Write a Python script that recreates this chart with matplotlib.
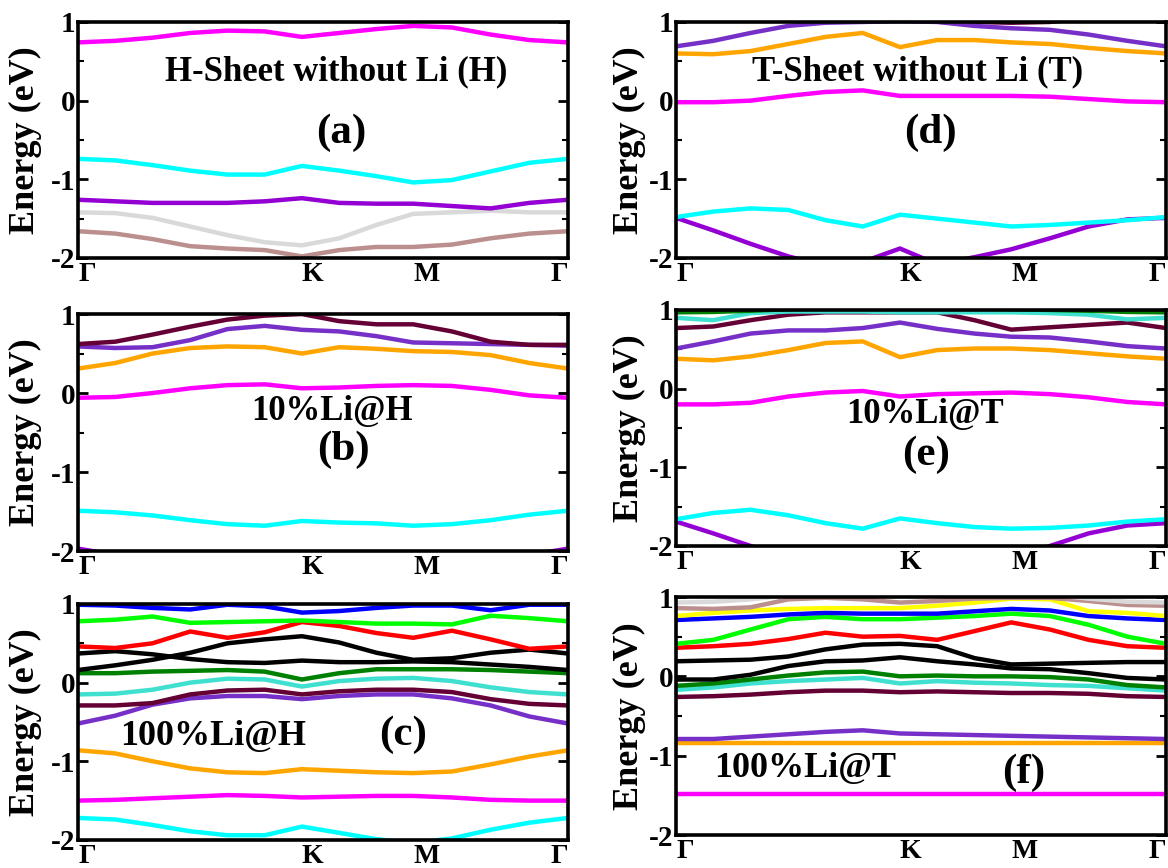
import numpy as np
import matplotlib
matplotlib.use("Agg")
import matplotlib.pyplot as plt

plt.rcParams['font.family'] = ['Liberation Serif', 'DejaVu Serif']
plt.rcParams['font.weight'] = 'bold'

# k-path positions (Gamma - K - M - Gamma)
k = [0.0, 0.076, 0.152, 0.229, 0.305, 0.381, 0.457, 0.533, 0.609, 0.684, 0.763, 0.842, 0.921, 1.0]
k_ticks = [0.0, 0.457, 0.684, 1.0]
k_labels = ["Γ", "K", "M", "Γ"]

# (a) H-Sheet without Li
a_magenta = [0.74, 0.76, 0.80, 0.86, 0.89, 0.88, 0.81, 0.86, 0.91, 0.95, 0.93, 0.84, 0.77, 0.74]
a_cyan = [-0.74, -0.76, -0.82, -0.89, -0.94, -0.94, -0.83, -0.89, -0.96, -1.04, -1.01, -0.90, -0.79, -0.74]
a_purple = [-1.26, -1.28, -1.30, -1.30, -1.30, -1.28, -1.24, -1.30, -1.31, -1.31, -1.34, -1.37, -1.30, -1.26]
a_gray = [-1.42, -1.43, -1.49, -1.60, -1.71, -1.80, -1.84, -1.75, -1.58, -1.44, -1.42, -1.40, -1.42, -1.42]
a_brown = [-1.66, -1.69, -1.76, -1.85, -1.88, -1.90, -1.98, -1.90, -1.86, -1.86, -1.83, -1.75, -1.69, -1.66]

# (d) T-Sheet without Li
d_maroon = [1.15, 1.12, 1.10, 1.08, 1.06, 1.05, 1.04, 1.02, 1.00, 0.99, 1.00, 1.05, 1.10, 1.15]
d_purple_hi = [0.69, 0.76, 0.86, 0.95, 0.99, 1.00, 1.01, 1.00, 0.95, 0.92, 0.90, 0.84, 0.76, 0.69]
d_orange = [0.60, 0.59, 0.63, 0.72, 0.81, 0.86, 0.68, 0.77, 0.77, 0.74, 0.72, 0.67, 0.63, 0.60]
d_magenta = [-0.02, -0.02, 0.00, 0.06, 0.11, 0.13, 0.06, 0.06, 0.06, 0.06, 0.05, 0.02, -0.01, -0.02]
d_cyan = [-1.48, -1.41, -1.37, -1.39, -1.52, -1.60, -1.45, -1.50, -1.55, -1.60, -1.58, -1.55, -1.52, -1.48]
d_purple_lo = [-1.49, -1.65, -1.82, -1.98, -2.10, -2.05, -1.88, -2.08, -1.99, -1.89, -1.75, -1.60, -1.51, -1.49]

# (b) 10%Li@H
b_maroon = [0.62, 0.65, 0.74, 0.84, 0.93, 0.98, 1.00, 0.91, 0.87, 0.87, 0.78, 0.65, 0.61, 0.61]
b_purple = [0.59, 0.57, 0.58, 0.67, 0.81, 0.85, 0.80, 0.78, 0.72, 0.64, 0.63, 0.62, 0.61, 0.60]
b_orange = [0.31, 0.38, 0.50, 0.57, 0.59, 0.58, 0.50, 0.58, 0.56, 0.53, 0.52, 0.48, 0.38, 0.31]
b_magenta = [-0.06, -0.05, 0.00, 0.06, 0.10, 0.11, 0.06, 0.07, 0.09, 0.10, 0.09, 0.04, -0.03, -0.06]
b_cyan = [-1.49, -1.51, -1.55, -1.61, -1.66, -1.68, -1.62, -1.64, -1.65, -1.68, -1.66, -1.61, -1.54, -1.49]
b_purple_lo = [-1.97, -2.05, -2.2, -2.3, -2.3, -2.3, -2.3, -2.3, -2.3, -2.3, -2.3, -2.2, -2.05, -1.97]

# (e) 10%Li@T
e_green = [0.97, 0.975, 0.99, 1.01, 1.02, 1.02, 1.02, 1.02, 1.02, 1.01, 1.00, 0.99, 0.975, 0.97]
e_turq = [0.90, 0.87, 0.96, 0.98, 0.98, 0.98, 0.97, 0.97, 0.97, 0.97, 0.96, 0.94, 0.88, 0.90]
e_maroon = [0.77, 0.79, 0.87, 0.94, 0.97, 0.97, 0.97, 0.97, 0.87, 0.75, 0.78, 0.81, 0.84, 0.77]
e_purple = [0.51, 0.60, 0.70, 0.74, 0.74, 0.77, 0.84, 0.76, 0.70, 0.66, 0.65, 0.60, 0.54, 0.51]
e_orange = [0.38, 0.36, 0.41, 0.49, 0.58, 0.60, 0.40, 0.49, 0.51, 0.51, 0.49, 0.45, 0.41, 0.38]
e_magenta = [-0.20, -0.20, -0.18, -0.10, -0.05, -0.03, -0.10, -0.07, -0.06, -0.05, -0.07, -0.11, -0.17, -0.20]
e_cyan = [-1.66, -1.58, -1.54, -1.61, -1.71, -1.78, -1.65, -1.71, -1.76, -1.78, -1.77, -1.74, -1.69, -1.66]
e_purple_lo = [-1.69, -1.84, -2.0, -2.15, -2.25, -2.3, -2.3, -2.3, -2.25, -2.15, -2.0, -1.84, -1.74, -1.71]

# (c) 100%Li@H
c_blue = [0.99, 0.98, 0.95, 0.93, 0.99, 0.97, 0.89, 0.91, 0.95, 0.98, 0.98, 0.92, 0.99, 0.99]
c_lime = [0.78, 0.80, 0.84, 0.76, 0.77, 0.78, 0.79, 0.77, 0.75, 0.75, 0.74, 0.85, 0.82, 0.78]
c_red = [0.46, 0.44, 0.50, 0.65, 0.57, 0.64, 0.77, 0.72, 0.63, 0.57, 0.66, 0.55, 0.43, 0.46]
c_black1 = [0.16, 0.22, 0.29, 0.38, 0.50, 0.55, 0.59, 0.51, 0.38, 0.29, 0.31, 0.38, 0.42, 0.37]
c_black2 = [0.37, 0.40, 0.36, 0.30, 0.26, 0.25, 0.28, 0.26, 0.26, 0.27, 0.26, 0.23, 0.20, 0.16]
c_dkgreen = [0.12, 0.12, 0.14, 0.15, 0.16, 0.14, 0.04, 0.12, 0.17, 0.17, 0.17, 0.16, 0.14, 0.12]
c_turq = [-0.15, -0.14, -0.09, 0.00, 0.05, 0.04, -0.05, 0.02, 0.05, 0.06, 0.02, -0.06, -0.12, -0.15]
c_maroon = [-0.29, -0.29, -0.26, -0.15, -0.10, -0.09, -0.15, -0.11, -0.09, -0.09, -0.12, -0.21, -0.27, -0.29]
c_purple = [-0.52, -0.42, -0.28, -0.20, -0.17, -0.17, -0.21, -0.17, -0.15, -0.15, -0.20, -0.29, -0.43, -0.52]
c_orange = [-0.86, -0.90, -1.00, -1.09, -1.14, -1.15, -1.10, -1.12, -1.14, -1.15, -1.13, -1.04, -0.94, -0.86]
c_magenta = [-1.50, -1.49, -1.47, -1.45, -1.43, -1.44, -1.46, -1.45, -1.44, -1.44, -1.46, -1.49, -1.50, -1.50]
c_cyan = [-1.72, -1.74, -1.81, -1.89, -1.94, -1.94, -1.83, -1.91, -1.99, -2.04, -1.98, -1.87, -1.78, -1.72]

# (f) 100%Li@T
f_gray = [0.93, 0.94, 0.97, 1.02, 1.05, 1.05, 1.05, 1.05, 1.05, 1.05, 1.03, 0.98, 0.94, 0.93]
f_brown = [0.86, 0.85, 0.87, 0.97, 0.99, 0.97, 0.93, 0.95, 0.98, 0.99, 0.99, 0.95, 0.90, 0.89]
f_yellow = [0.76, 0.80, 0.83, 0.85, 0.86, 0.86, 0.86, 0.89, 0.93, 0.98, 0.97, 0.82, 0.80, 0.76]
f_blue = [0.71, 0.73, 0.75, 0.78, 0.80, 0.79, 0.79, 0.79, 0.82, 0.85, 0.83, 0.76, 0.73, 0.71]
f_lime = [0.41, 0.46, 0.59, 0.72, 0.75, 0.72, 0.72, 0.74, 0.76, 0.79, 0.76, 0.65, 0.50, 0.41]
f_red = [0.36, 0.38, 0.41, 0.47, 0.55, 0.50, 0.51, 0.46, 0.57, 0.68, 0.59, 0.46, 0.38, 0.36]
f_black1 = [0.19, 0.20, 0.21, 0.25, 0.34, 0.40, 0.41, 0.38, 0.23, 0.15, 0.16, 0.17, 0.18, 0.18]
f_black2 = [-0.04, -0.04, 0.02, 0.13, 0.19, 0.20, 0.24, 0.19, 0.15, 0.10, 0.09, 0.04, -0.02, -0.04]
f_dkgreen = [-0.12, -0.09, -0.04, 0.01, 0.05, 0.06, 0.00, 0.01, 0.00, 0.00, -0.01, -0.04, -0.11, -0.14]
f_turq = [-0.17, -0.14, -0.09, -0.06, -0.04, -0.02, -0.09, -0.06, -0.08, -0.09, -0.11, -0.12, -0.15, -0.18]
f_maroon = [-0.26, -0.25, -0.23, -0.20, -0.18, -0.18, -0.20, -0.19, -0.20, -0.21, -0.21, -0.22, -0.25, -0.26]
f_purple = [-0.79, -0.79, -0.76, -0.73, -0.70, -0.68, -0.72, -0.73, -0.74, -0.75, -0.76, -0.77, -0.78, -0.79]
f_orange = [-0.84, -0.84, -0.84, -0.84, -0.84, -0.84, -0.84, -0.84, -0.84, -0.84, -0.84, -0.84, -0.84, -0.84]
f_magenta = [-1.48, -1.48, -1.48, -1.48, -1.48, -1.48, -1.48, -1.48, -1.48, -1.48, -1.48, -1.48, -1.48, -1.48]

# colours
MAG = "#FF00FF"; CYA = "#00FFFF"; DVIO = "#9400D3"; BVIO = "#7630C8"
GRY = "#D9D9D9"; RBR = "#BC8F8F"; ORA = "#FFA500"; MAR = "#650035"
DGR = "#008000"; TUR = "#40E0D0"; LIM = "#00FF00"; RED = "#FF0000"
BLU = "#0000FF"; YEL = "#FFFF00"; BLK = "#000000"

panels = [
    # axes rect, bands, texts, ylabel x
    ([0.0668, 0.7028, 0.4195, 0.2719],
     [(a_brown, RBR), (a_gray, GRY), (a_purple, DVIO), (a_cyan, CYA), (a_magenta, MAG)],
     [("H-Sheet without Li (H)", 0.527, 0.37, 25), ("(a)", 0.537, -0.41, 31)], -0.108),
    ([0.5788, 0.7028, 0.4195, 0.2719],
     [(d_purple_lo, DVIO), (d_cyan, CYA), (d_magenta, MAG), (d_orange, ORA), (d_maroon, MAR), (d_purple_hi, BVIO)],
     [("T-Sheet without Li (T)", 0.492, 0.37, 25), ("(d)", 0.519, -0.41, 31)], -0.096),
    ([0.0668, 0.3652, 0.4195, 0.2730],
     [(b_purple_lo, DVIO), (b_cyan, CYA), (b_magenta, MAG), (b_orange, ORA), (b_purple, BVIO), (b_maroon, MAR)],
     [("10%Li@H", 0.518, -0.236, 25), ("(b)", 0.541, -0.72, 31)], -0.108),
    ([0.5788, 0.3710, 0.4195, 0.2719],
     [(e_purple_lo, DVIO), (e_cyan, CYA), (e_magenta, MAG), (e_orange, ORA), (e_purple, BVIO),
      (e_maroon, MAR), (e_turq, TUR), (e_green, DGR)],
     [("10%Li@T", 0.509, -0.335, 25), ("(e)", 0.511, -0.844, 31)], -0.096),
    ([0.0668, 0.0323, 0.4195, 0.2719],
     [(c_cyan, CYA), (c_magenta, MAG), (c_orange, ORA), (c_purple, BVIO), (c_maroon, MAR), (c_turq, TUR),
      (c_dkgreen, DGR), (c_black2, BLK), (c_black1, BLK), (c_red, RED), (c_lime, LIM), (c_blue, BLU)],
     [("100%Li@H", 0.276, -0.683, 26), ("(c)", 0.663, -0.662, 31)], -0.108),
    ([0.5788, 0.0380, 0.4195, 0.2742],
     [(f_magenta, MAG), (f_orange, ORA), (f_purple, BVIO), (f_maroon, MAR), (f_turq, TUR), (f_dkgreen, DGR),
      (f_black2, BLK), (f_black1, BLK), (f_red, RED), (f_lime, LIM), (f_blue, BLU), (f_yellow, YEL),
      (f_brown, RBR), (f_gray, GRY)],
     [("100%Li@T", 0.264, -1.158, 26), ("(f)", 0.709, -1.221, 31)], -0.096),
]

fig = plt.figure(figsize=(11.68, 8.68), dpi=100)

for rect, bands, texts, ylx in panels:
    ax = fig.add_axes(rect)
    for vals, col in bands:
        ax.plot(k, vals, color=col, lw=3.2, solid_joinstyle='round', solid_capstyle='round')
    ax.set_xlim(0, 1)
    ax.set_ylim(-2, 1)
    ax.set_yticks([-2, -1, 0, 1])
    ax.set_yticks([-1.5, -0.5, 0.5], minor=True)
    ax.set_yticklabels(["-2", "-1", "0", "1"], fontsize=21, fontweight='bold')
    ax.set_xticks(k_ticks)
    ax.set_xticklabels(k_labels, fontsize=20, fontweight='bold')
    for i, lab in enumerate(ax.get_xticklabels()):
        lab.set_horizontalalignment('right' if i == len(k_labels) - 1 else 'left')
    ax.tick_params(axis='x', length=0, pad=3)
    ax.tick_params(axis='y', which='major', direction='in', length=7, width=2, left=True, right=True, pad=2)
    ax.tick_params(axis='y', which='minor', direction='in', length=4, width=1.5, left=True, right=True)
    for sp in ax.spines.values():
        sp.set_linewidth(2.6)
    ax.set_ylabel("Energy (eV)", fontsize=26, fontweight='bold', va='center')
    ax.yaxis.set_label_coords(ylx, 0.5)
    for txt, tx, ty, fs in texts:
        ax.text(tx, ty, txt, fontsize=fs, fontweight='bold', ha='center', va='center')

fig.savefig("out.png", dpi=100)
